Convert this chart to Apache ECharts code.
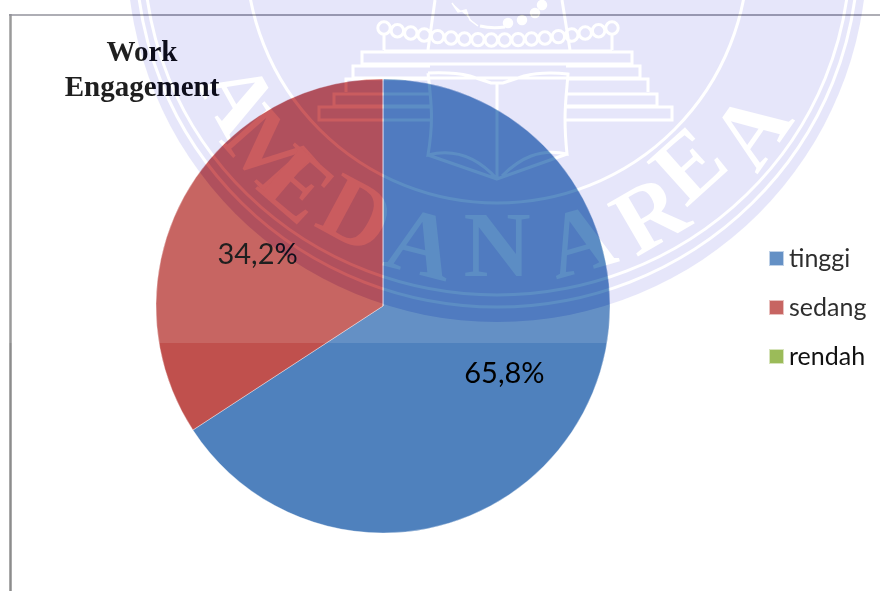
<!DOCTYPE html>
<html>
<head>
<meta charset="utf-8">
<style>html,body{margin:0;padding:0;background:#fff}#chart{width:880px;height:591px}</style>
<script src="https://cdn.jsdelivr.net/npm/echarts@6/dist/echarts.min.js"></script>
</head>
<body>
<div id="chart"></div>
<script>
// Chart data
const categories = ['tinggi', 'sedang', 'rendah'];
const shares = [65.8, 34.2, 0];
const sliceColors = ['#4F81BD', '#C0504D', '#9BBB59'];
const chartTitle = 'Work\nEngagement';

// Label nudges away from the default mid-radius position
const labelShift = [[19, 12], [-23, 4], [0, 0]];

// University seal printed across the page
const sealCx = 497, sealCy = -48;
const sealWord = [
  ['A', -60.7, 303], ['M', -48.5, 310], ['E', -40.6, 313], ['D', -28.2, 304], ['A', -14.5, 308],
  ['N', 0, 300], ['A', 16, 307], ['R', 30.2, 310], ['E', 42, 293], ['A', 55, 317]
];
const beadCount = 18;
const holeColor = '#212105';

function ringPath(rx, ry) {
  return `M${sealCx - rx} ${sealCy}A${rx} ${ry} 0 1 0 ${sealCx + rx} ${sealCy}A${rx} ${ry} 0 1 0 ${sealCx - rx} ${sealCy}Z`;
}
function roundDot(x, y, r) {
  return `M${x - r} ${y}A${r} ${r} 0 1 0 ${x + r} ${y}A${r} ${r} 0 1 0 ${x - r} ${y}Z`;
}

// Emblem outline: plinth steps, open book, posts and the string of beads
let emblem = '';
emblem += 'M362 52H632V64H362Z';
emblem += 'M430 66H353V78H640V66H566';
emblem += 'M430 79H346V92M566 79H648V92';
emblem += 'M430 94H334V106H430M566 94H657V106H566';
emblem += 'M430 107H319V120H430M566 107H672V120H566';
emblem += 'M428 73C450 72 462 74 470 76L491 83H503L524 76C532 74 548 72 568 74C566 100 563 115 567 154C540 148 520 158 502 176';
emblem += 'M428 73C431 100 434 120 428 155C455 148 478 158 497 179L567 154';
emblem += 'M428 155L497 179M497 83V178';
emblem += 'M428 50L435 0M570 50L562 0';
emblem += 'M384 50V34M612 50V34M384 51H612';
for (let i = 0; i < beadCount; i++) {
  const t = i / (beadCount - 1);
  const x = 384 + 228 * t;
  const y = 40 - 12 * Math.pow(2 * t - 1, 2);
  emblem += roundDot(Math.round(x * 10) / 10, Math.round(y * 10) / 10, 6.2);
}
emblem += 'M480 26C488 28 498 28 505 27';

const topDots = roundDot(508, 23, 4.5) + roundDot(522, 20, 4.5) + roundDot(535, 13, 4.5) + roundDot(542, 5, 4.5);

echarts.graphic.registerShape('sealRings', echarts.graphic.extendPath(ringPath(251, 251) + ringPath(353, 343) + ringPath(361, 355), {}));
echarts.graphic.registerShape('sealEmblem', echarts.graphic.extendPath(emblem, {}));
echarts.graphic.registerShape('sealDots', echarts.graphic.extendPath(topDots + 'M452 3L458 12L466 10L470 20L478 26', {}));

// The curved lettering is set on its own sheet so it can knock through the tint
const wordSheet = document.createElement('canvas');
wordSheet.width = 880;
wordSheet.height = 591;
const sheet = wordSheet.getContext('2d');
sheet.font = 'bold 93px "Liberation Serif"';
sheet.fillStyle = holeColor;
sheet.textAlign = 'center';
sheet.textBaseline = 'middle';
sealWord.forEach(([ch, deg, r]) => {
  const a = deg * Math.PI / 180;
  sheet.save();
  sheet.translate(sealCx + r * Math.sin(a), sealCy + r * Math.cos(a));
  sheet.rotate(-a);
  sheet.fillText(ch, 0, 0);
  sheet.restore();
});

let layer = 100;
const overlay = [];
function add(el) { el.z = layer++; el.silent = true; overlay.push(el); }

// Page frame
add({ type: 'line', shape: { x1: 10.5, y1: 14, x2: 10.5, y2: 591 }, style: { stroke: '#8c8c8c', lineWidth: 2.5 } });
add({ type: 'line', shape: { x1: 9, y1: 15, x2: 880, y2: 15 }, style: { stroke: '#85858f', lineWidth: 1.5 } });

// Print haze above the fold of the page
add({ type: 'rect', shape: { x: 0, y: 0, width: 880, height: 343 }, style: { fill: 'rgba(255,255,255,0.12)' } });

// Seal tint
add({ type: 'circle', shape: { cx: sealCx, cy: sealCy, r: 370 }, style: { fill: 'rgb(237,237,250)', blend: 'color-burn' } });
add({ type: 'circle', shape: { cx: sealCx, cy: sealCy, r: 370 }, style: { fill: '#E6E6FA', blend: 'multiply' } });

// Seal line work knocked out of the tint
add({ type: 'sealRings', style: { fill: null, stroke: holeColor, lineWidth: 3, blend: 'color-dodge' } });
add({ type: 'sealEmblem', style: { fill: null, stroke: holeColor, lineWidth: 3, blend: 'color-dodge' } });
add({ type: 'sealDots', style: { fill: holeColor, stroke: holeColor, lineWidth: 1.5, blend: 'color-dodge' } });
add({ type: 'image', style: { image: wordSheet, x: 0, y: 0, width: 880, height: 591, blend: 'color-dodge' } });

const chart = echarts.init(document.getElementById('chart'), null, { renderer: 'canvas' });
chart.setOption({
  animation: false,
  backgroundColor: '#fff',
  title: {
    text: chartTitle,
    left: 137,
    top: 31,
    textAlign: 'center',
    textStyle: {
      fontFamily: '"Liberation Serif"',
      fontWeight: 'bold',
      fontSize: 29,
      lineHeight: 35,
      color: '#000'
    }
  },
  legend: {
    orient: 'vertical',
    left: 763,
    top: 241,
    itemWidth: 15,
    itemHeight: 15,
    itemGap: 24,
    icon: 'rect',
    data: categories,
    selectedMode: false,
    textStyle: { fontFamily: 'Lato', fontSize: 25, color: '#111' }
  },
  series: [{
    type: 'pie',
    center: [383, 306],
    radius: [0, 227],
    startAngle: 90,
    clockwise: true,
    avoidLabelOverlap: false,
    itemStyle: { borderColor: 'rgba(255,255,255,0.6)', borderWidth: 0.6 },
    label: {
      position: 'inside',
      fontFamily: 'Lato',
      fontSize: 29,
      color: '#000',
      formatter: p => p.value.toFixed(1).replace('.', ',') + '%'
    },
    labelLine: { show: false },
    labelLayout: p => ({ dx: labelShift[p.dataIndex][0], dy: labelShift[p.dataIndex][1] }),
    data: categories.map((name, i) => ({
      name,
      value: shares[i],
      itemStyle: { color: sliceColors[i] },
      label: { show: shares[i] > 0 }
    }))
  }],
  graphic: { elements: overlay }
});
</script>
</body>
</html>
